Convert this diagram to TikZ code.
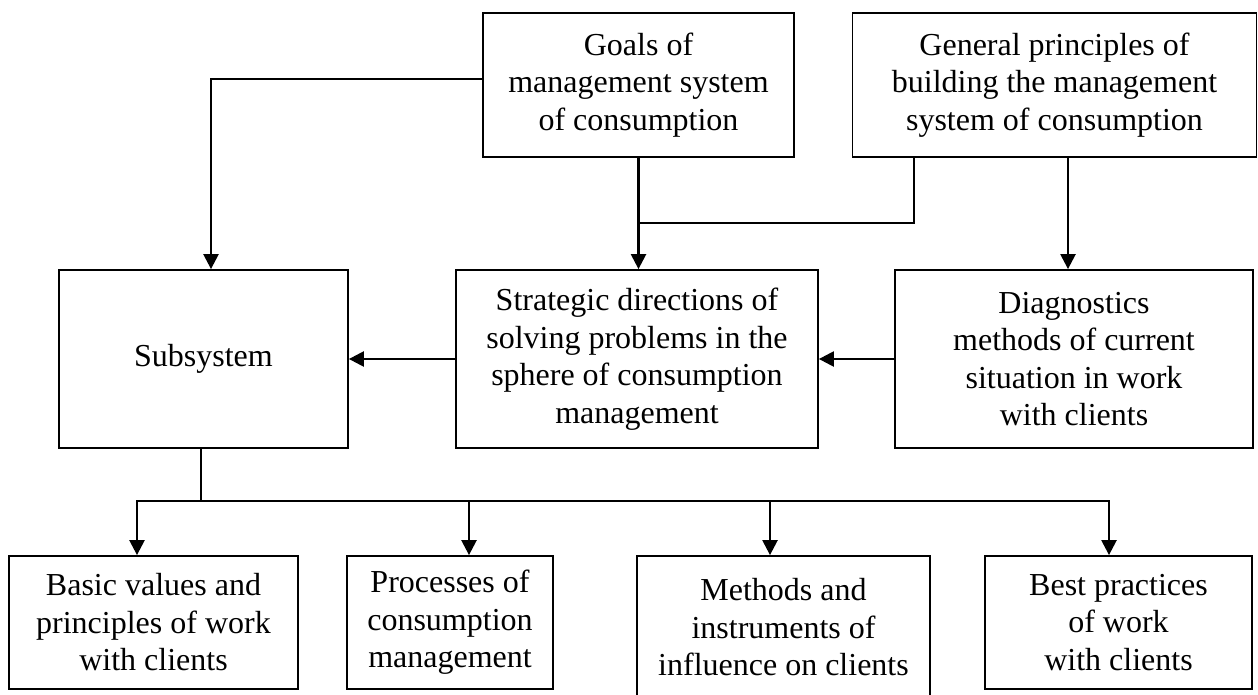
\documentclass[tikz,border=0pt]{standalone}
\usepackage{fontspec}
\setmainfont{Liberation Serif}
\usetikzlibrary{
  positioning,
  arrows.meta
}

\begin{document}
\begin{tikzpicture}[
    x=1pt, y=-1pt, >={Triangle[length=15pt,width=15pt]},
    font=\fontsize{32pt}{37.5pt}\selectfont,
    block/.style={
      rectangle,
      draw=black,
      line width=1.8pt,
      inner sep=0pt,
      align=center
    },
    link/.style={draw=black, line width=2pt},
    arrow/.style={draw=black, line width=2.4pt, ->}
  ]
  \useasboundingbox (0,0) rectangle (1258,695);

  \node[block, minimum width=311pt, minimum height=144pt] (goals) at (638.5,85) {Goals of\\management system\\of consumption};
  \node[block, minimum width=404pt, minimum height=144pt] (general) at (1054.5,85) {General principles of\\building the management\\system of consumption};

  \node[block, minimum width=289pt, minimum height=178pt] (subsys) at (203.5,359) {Subsystem};
  \node[block, minimum width=362pt, minimum height=178pt] (strategic) at (637,359) {Strategic directions of\\solving problems in the\\sphere of consumption\\management};
  \node[block, minimum width=358pt, minimum height=178pt] (diag) at (1074,359) {Diagnostics\\methods of current\\situation in work\\with clients};

  \node[block, minimum width=289pt, minimum height=133pt] (basic) at (153.5,622.5) {Basic values and\\principles of work\\with clients};
  \node[block, minimum width=206pt, minimum height=133pt] (proc) at (450,622.5) {Processes of\\consumption\\management};
  \node[block, minimum width=293pt, minimum height=143pt] (meth) at (783.5,627.5) {Methods and\\instruments of\\influence on clients};
  \node[block, minimum width=267pt, minimum height=133pt] (best) at (1118.5,622.5) {Best practices\\of work\\with clients};

  \coordinate (join) at (638.5,223);
  \coordinate (bus) at (201,501);

  \draw[arrow] ([yshift=6pt]goals.west) -| ([xshift=7.5pt]subsys.north);
  \draw[arrow] (goals.south) -- (goals.south |- strategic.north);
  \draw[link] ([xshift=-140.5pt]general.south) |- (join);
  \draw[arrow] ([xshift=13.5pt]general.south) -- ([xshift=13.5pt]general.south |- diag.north);
  \draw[arrow] (diag.west) -- (strategic.east);
  \draw[arrow] (strategic.west) -- (subsys.east);

  \draw[link] (subsys.south -| bus) -- (bus);
  \draw[link, line cap=rect] ([xshift=-16.5pt]basic.north |- bus) -- ([xshift=-9.5pt]best.north |- bus);
  \foreach \blk/\dx in {basic/-16.5, proc/19, meth/-13.5, best/-9.5}
    \draw[arrow] ([xshift=\dx pt]\blk.north |- bus) -- ([xshift=\dx pt]\blk.north);
\end{tikzpicture}
\end{document}
